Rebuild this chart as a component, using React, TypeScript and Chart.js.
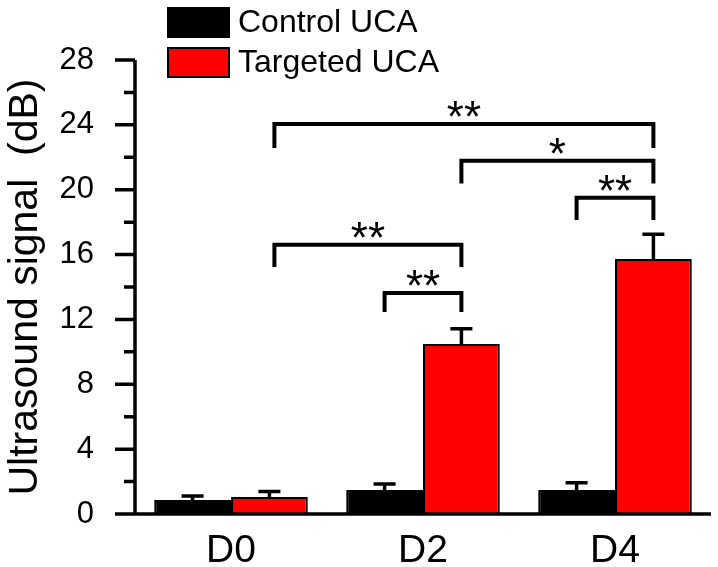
import React, { useEffect, useRef } from "react";
import { Chart, registerables } from "chart.js";

Chart.register(...registerables);

const categories = ["D0", "D2", "D4"];
const seriesNames = ["Control UCA", "Targeted UCA"];
const seriesColors = ["#000000", "#FF0000"];
const controlValues = [0.86, 1.48, 1.48];
const controlErrors = [0.25, 0.37, 0.45];
const targetedValues = [1.05, 10.49, 15.73];
const targetedErrors = [0.33, 0.93, 1.52];
const yMajorTicks = [0, 4, 8, 12, 16, 20, 24, 28];
const yMinorTicks = [2, 6, 10, 14, 18, 22, 26];
const yTitle = "Ultrasound signal  (dB)";

// significance brackets: [category, dataset] endpoints, top value, leg-end value, label
const sigFrom = [[0, 1], [1, 1], [2, 0], [0, 1], [1, 0]];
const sigTo = [[2, 1], [2, 1], [2, 1], [1, 1], [1, 1]];
const sigTop = [24.06, 21.78, 19.5, 16.6, 13.63];
const sigLeg = [22.7, 20.5, 18.26, 15.36, 12.58];
const sigLabels = ["**", "*", "**", "**", "**"];

const errorsBySeries = [controlErrors, targetedErrors];

const FONT = "Arial, 'Liberation Sans', sans-serif";

const errorBarPlugin = {
  id: "errorBars",
  afterDatasetsDraw(chart: any) {
    const ctx = chart.ctx;
    const ys = chart.scales.y;
    chart.data.datasets.forEach((ds: any, di: number) => {
      const meta = chart.getDatasetMeta(di);
      meta.data.forEach((bar: any, i: number) => {
        const top = ys.getPixelForValue(ds.data[i] + errorsBySeries[di][i]);
        ctx.save();
        ctx.strokeStyle = "#000";
        ctx.lineWidth = 3.5;
        ctx.beginPath();
        ctx.moveTo(bar.x, bar.y);
        ctx.lineTo(bar.x, top);
        ctx.moveTo(bar.x - 11, top);
        ctx.lineTo(bar.x + 11, top);
        ctx.stroke();
        ctx.restore();
      });
    });
  },
};

const axesPlugin = {
  id: "customAxes",
  afterDatasetsDraw(chart: any) {
    const ctx = chart.ctx;
    const ys = chart.scales.y;
    const { left, right, top, bottom } = chart.chartArea;
    ctx.save();
    ctx.strokeStyle = "#000";
    ctx.lineWidth = 3.5;
    ctx.lineCap = "butt";
    ctx.beginPath();
    ctx.moveTo(left, top);
    ctx.lineTo(left, bottom + 1.5);
    ctx.moveTo(left - 20, bottom);
    ctx.lineTo(right, bottom);
    yMajorTicks.forEach((v) => {
      const p = ys.getPixelForValue(v);
      ctx.moveTo(left - 20, p);
      ctx.lineTo(left, p);
    });
    yMinorTicks.forEach((v) => {
      const p = ys.getPixelForValue(v);
      ctx.moveTo(left - 11, p);
      ctx.lineTo(left, p);
    });
    ctx.stroke();
    ctx.restore();
  },
};

const bracketPlugin = {
  id: "sigBrackets",
  afterDatasetsDraw(chart: any) {
    const ctx = chart.ctx;
    const ys = chart.scales.y;
    sigLabels.forEach((label, k) => {
      const a = chart.getDatasetMeta(sigFrom[k][1]).data[sigFrom[k][0]];
      const b = chart.getDatasetMeta(sigTo[k][1]).data[sigTo[k][0]];
      const x1 = a.x + (sigFrom[k][1] === 1 && sigFrom[k][0] === 0 ? 5 : 0);
      const x2 = b.x;
      const yt = ys.getPixelForValue(sigTop[k]);
      const yl = ys.getPixelForValue(sigLeg[k]);
      ctx.save();
      ctx.strokeStyle = "#000";
      ctx.lineWidth = 4;
      ctx.lineJoin = "miter";
      ctx.lineCap = "square";
      ctx.beginPath();
      ctx.moveTo(x1, yl);
      ctx.lineTo(x1, yt);
      ctx.lineTo(x2, yt);
      ctx.lineTo(x2, yl);
      ctx.stroke();
      ctx.font = `44px ${FONT}`;
      ctx.fillStyle = "#000";
      ctx.textAlign = "center";
      ctx.textBaseline = "alphabetic";
      const m = ctx.measureText(label);
      const glyphBottom = yt - 7;
      ctx.fillText(label, (x1 + x2) / 2, glyphBottom - m.actualBoundingBoxDescent);
      ctx.restore();
    });
  },
};

const legendPlugin = {
  id: "customLegend",
  afterDraw(chart: any) {
    const ctx = chart.ctx;
    ctx.save();
    chart.data.datasets.forEach((ds: any, i: number) => {
      const boxTop = 8 + i * 40;
      ctx.fillStyle = ds.backgroundColor;
      ctx.fillRect(168, boxTop, 61, 29);
      ctx.strokeStyle = "#000";
      ctx.lineWidth = 2;
      ctx.strokeRect(168, boxTop, 61, 29);
      ctx.fillStyle = "#000";
      ctx.font = `32px ${FONT}`;
      ctx.textAlign = "left";
      ctx.textBaseline = "middle";
      ctx.fillText(ds.label, 238, boxTop + 15);
    });
    ctx.restore();
  },
};

export default function App() {
  const ref = useRef<HTMLCanvasElement>(null);
  useEffect(() => {
    if (!ref.current) return;
    const chart = new Chart(ref.current, {
      type: "bar",
      data: {
        labels: categories,
        datasets: [
          {
            label: seriesNames[0],
            data: controlValues,
            backgroundColor: seriesColors[0],
            borderColor: "#000",
            borderWidth: 2,
          },
          {
            label: seriesNames[1],
            data: targetedValues,
            backgroundColor: seriesColors[1],
            borderColor: "#000",
            borderWidth: 2,
          },
        ],
      },
      options: {
        responsive: false,
        animation: false,
        layout: { padding: { top: 60, right: 7, left: 0, bottom: 0 } },
        datasets: { bar: { barPercentage: 1, categoryPercentage: 0.8 } },
        plugins: { legend: { display: false }, tooltip: { enabled: false } },
        scales: {
          x: {
            grid: { display: false },
            border: { display: false },
            ticks: { color: "#000", font: { family: FONT, size: 39 }, padding: 6 },
            afterFit(scale: any) {
              scale.height = 53;
            },
          },
          y: {
            min: 0,
            max: 28,
            grid: { display: false },
            border: { display: false },
            ticks: { stepSize: 4, color: "#000", font: { family: FONT, size: 31 }, padding: 33 },
            title: {
              display: true,
              text: yTitle,
              color: "#000",
              font: { family: FONT, size: 41 },
              padding: { top: 1, bottom: 0 },
            },
            afterFit(scale: any) {
              scale.width = 135;
            },
          },
        },
      },
      plugins: [errorBarPlugin, bracketPlugin, axesPlugin, legendPlugin],
    } as any);
    return () => chart.destroy();
  }, []);
  return (
    <div style={{ position: "absolute", left: 0, top: 0, width: 718, height: 567, background: "#fff" }}>
      <canvas ref={ref} width={718} height={567} style={{ display: "block" }} />
    </div>
  );
}
